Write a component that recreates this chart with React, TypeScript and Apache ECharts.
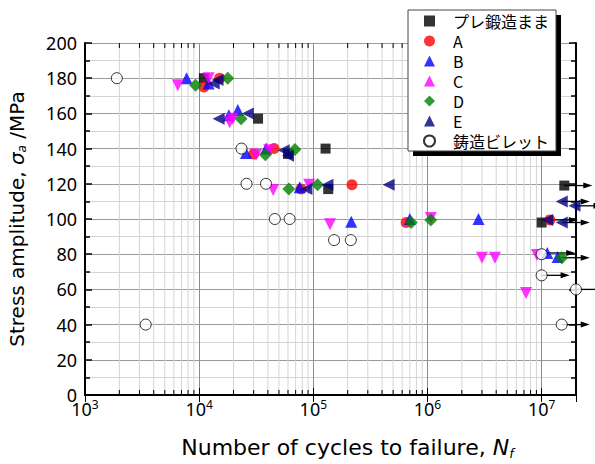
import React, { useEffect, useRef } from "react";
import * as echarts from "echarts";

// [cycles to failure, stress amplitude MPa]
const preForged = [[11000, 180], [32800, 157], [60000, 137], [128000, 140], [135000, 117], [15800000, 119], [10000000, 98]];
const seriesA = [[11000, 175], [15100, 180], [30000, 137], [45300, 140], [78000, 117], [218000, 119.5], [650000, 98], [11800000, 99.5]];
const seriesB = [[7770, 180], [12100, 177], [18200, 159], [21800, 162], [25700, 137.5], [38600, 140], [76000, 118], [215000, 98.5], [700000, 100], [2800000, 100], [11200000, 80.7], [13800000, 78.4]];
const seriesC = [[6500, 176], [12100, 180], [19700, 157], [18500, 155], [31500, 136.5], [41000, 139], [44500, 116.5], [92000, 119.5], [140000, 97], [1070000, 100.5], [3000000, 78], [3900000, 78], [7300000, 58], [9100000, 79.5]];
const seriesD = [[9300, 176], [17800, 180], [23300, 157], [38000, 136.5], [69000, 139.5], [61000, 117], [109000, 119.5], [720000, 98], [1070000, 99.5], [15000000, 78]];
const seriesE = [[13400, 177], [14500, 179], [14800, 157], [26700, 160], [55000, 139], [60000, 136], [87000, 117], [133000, 119.5], [457000, 119.5], [15000000, 110], [19400000, 107.5], [11200000, 99.5], [15000000, 98]];
const castBillet = [[1900, 180], [3400, 40], [23500, 140], [26000, 120], [38500, 120], [46000, 100], [62000, 100], [152000, 88], [213000, 88], [10000000, 80], [10000000, 68], [20000000, 60], [15000000, 40]];
// run-out (no failure) points
const runouts = [[15800000, 119], [15000000, 110], [19400000, 107.5], [11800000, 99.5], [15000000, 98], [11200000, 80.7], [15000000, 78], [10000000, 68], [20000000, 60], [15000000, 40]];

const seriesNames = ["プレ鍛造まま", "A", "B", "C", "D", "E", "鋳造ビレット"];
const xMinorTicks = [
  2000, 3000, 4000, 5000, 6000, 7000, 8000, 9000,
  20000, 30000, 40000, 50000, 60000, 70000, 80000, 90000,
  200000, 300000, 400000, 500000, 600000, 700000, 800000, 900000,
  2000000, 3000000, 4000000, 5000000, 6000000, 7000000, 8000000, 9000000,
];

const FONT = "'Noto Sans CJK JP', 'Noto Sans', sans-serif";
const TFONT = "'DejaVu Sans', sans-serif";
const NFONT = "'Noto Sans', sans-serif";

export default function App() {
  const ref = useRef<HTMLDivElement>(null);
  useEffect(() => {
    if (!ref.current) return;
    const chart = echarts.init(ref.current, undefined, { renderer: "svg" });
    const sc = (name: string, data: number[][], symbol: string, size: number, color: string, rotate = 0, extra: any = {}) => ({
      name,
      type: "scatter",
      data,
      symbol,
      symbolSize: size,
      symbolRotate: rotate,
      itemStyle: { color, ...extra },
      z: 3,
    });
    const option: any = {
      animation: false,
      backgroundColor: "#fff",
      grid: { left: 85, top: 43, right: 19, bottom: 69, containLabel: false, outerBoundsMode: "none" },
      legend: {
        orient: "vertical",
        left: 408,
        top: 10,
        data: seriesNames,
        itemWidth: 11,
        itemHeight: 11,
        itemGap: 0,
        padding: [1, 7, 0, 15],
        backgroundColor: "#fff",
        borderColor: "#444",
        borderWidth: 1,
        borderRadius: 0,
        textStyle: { fontSize: 16, lineHeight: 20, fontFamily: FONT, color: "#000", padding: [0, 0, 0, 13] },
        z: 10,
      },
      graphic: [
        { type: "rect", z: 9, shape: { x: 413, y: 15, width: 148, height: 141 }, style: { fill: "#000" } },
      ],
      xAxis: [
        {
          type: "log",
          logBase: 10,
          min: 1000,
          max: 20000000,
          position: "bottom",
          name: "Number of cycles to failure, {i|N}{s|f}",
          nameLocation: "middle",
          nameGap: 40,
          nameTextStyle: {
            fontSize: 22, fontFamily: TFONT, color: "#000", padding: [0, 0, 0, 34],
            rich: {
              i: { fontSize: 22, fontStyle: "italic", fontFamily: TFONT, color: "#000" },
              s: { fontSize: 13, fontStyle: "italic", fontFamily: TFONT, color: "#000", padding: [12, 0, 0, 0] },
            },
          },
          axisLine: { show: true, lineStyle: { color: "#000", width: 2 } },
          axisTick: { show: true, inside: true, length: 7, lineStyle: { color: "#000", width: 1 } },
          splitLine: { show: true, lineStyle: { color: "#8c8c8c", width: 1 } },
          axisLabel: {
            margin: 3,
            showMaxLabel: false,
            formatter: (v: number) => {
              const e = Math.round(Math.log10(v));
              if (Math.abs(Math.log10(v) - e) > 1e-6) return "";
              return "{b|10}{s|" + e + "}";
            },
            rich: {
              b: { fontSize: 18, fontFamily: NFONT, color: "#000" },
              s: { fontSize: 12, fontFamily: NFONT, color: "#000", padding: [0, 0, 9, 0] },
            },
          },
        },
        {
          type: "log",
          logBase: 10,
          min: 1000,
          max: 20000000,
          position: "top",
          axisLine: { show: true, lineStyle: { color: "#000", width: 2 } },
          axisTick: { show: true, inside: true, length: 7, lineStyle: { color: "#000", width: 1 } },
          axisLabel: { show: false },
          splitLine: { show: false },
        },
      ],
      yAxis: [
        {
          type: "value",
          min: 0,
          max: 200,
          interval: 20,
          position: "left",
          name: "Stress amplitude, {i|σ}{s|a} /MPa",
          nameLocation: "middle",
          nameRotate: 90,
          nameGap: 57,
          nameTextStyle: {
            fontSize: 20, fontFamily: TFONT, color: "#000",
            rich: {
              i: { fontSize: 20, fontStyle: "italic", fontFamily: TFONT, color: "#000" },
              s: { fontSize: 12, fontStyle: "italic", fontFamily: TFONT, color: "#000", padding: [11, 0, 0, 0] },
            },
          },
          axisLine: { show: true, lineStyle: { color: "#000", width: 2 } },
          axisTick: { show: true, inside: true, length: 7, lineStyle: { color: "#000", width: 1.5 } },
          minorTick: { show: true, splitNumber: 2, length: 5, lineStyle: { color: "#000", width: 1.5 } },
          splitLine: { show: true, lineStyle: { color: "#9a9a9a", width: 1 } },
          minorSplitLine: { show: true, lineStyle: { color: "#d4d4d4", width: 1 } },
          axisLabel: { fontSize: 18, fontFamily: NFONT, color: "#000", margin: 8 },
        },
        {
          type: "value",
          min: 0,
          max: 200,
          interval: 20,
          position: "right",
          axisLine: { show: true, lineStyle: { color: "#000", width: 2 } },
          axisTick: { show: true, inside: true, length: 7, lineStyle: { color: "#000", width: 1.5 } },
          minorTick: { show: true, splitNumber: 2, length: 5, lineStyle: { color: "#000", width: 1.5 } },
          axisLabel: { show: false },
          splitLine: { show: false },
        },
      ],
      series: [
        {
          name: "minor-grid",
          type: "custom",
          xAxisIndex: 0,
          yAxisIndex: 0,
          z: 0,
          silent: true,
          data: xMinorTicks.map((v) => [v, 0]),
          renderItem: (_p: any, api: any) => {
            const v = api.value(0);
            const b = api.coord([v, 0]);
            const t = api.coord([v, 200]);
            return {
              type: "group",
              children: [
                { type: "line", shape: { x1: b[0], y1: b[1], x2: t[0], y2: t[1] }, style: { stroke: "#d4d4d4", lineWidth: 1 } },
                { type: "line", shape: { x1: b[0], y1: b[1], x2: b[0], y2: b[1] - 5 }, style: { stroke: "#000", lineWidth: 1 } },
                { type: "line", shape: { x1: t[0], y1: t[1], x2: t[0], y2: t[1] + 5 }, style: { stroke: "#000", lineWidth: 1 } },
              ],
            };
          },
        },
        {
          name: "runout",
          type: "custom",
          xAxisIndex: 0,
          yAxisIndex: 0,
          z: 2,
          silent: true,
          data: runouts,
          renderItem: (_p: any, api: any) => {
            const p = api.coord([api.value(0), api.value(1)]);
            const L = 28;
            return {
              type: "group",
              children: [
                { type: "line", shape: { x1: p[0], y1: p[1], x2: p[0] + L - 6, y2: p[1] }, style: { stroke: "#000", lineWidth: 1.3 } },
                { type: "polygon", shape: { points: [[p[0] + L, p[1]], [p[0] + L - 9, p[1] - 3], [p[0] + L - 9, p[1] + 3]] }, style: { fill: "#000" } },
              ],
            };
          },
        },
        sc(seriesNames[0], preForged, "rect", 10, "#000000"),
        sc(seriesNames[1], seriesA, "circle", 11, "#ff0000"),
        sc(seriesNames[2], seriesB, "triangle", 12, "#0000ff"),
        sc(seriesNames[3], seriesC, "triangle", 12, "#ff00ff", 180),
        sc(seriesNames[4], seriesD, "diamond", 13, "#008000"),
        sc(seriesNames[5], seriesE, "triangle", 12, "#000080", 90),
        sc(seriesNames[6], castBillet, "circle", 11, "#ffffff", 0, { borderColor: "#000", borderWidth: 1 }),
      ],
    };
    chart.setOption(option);
    return () => chart.dispose();
  }, []);
  return <div ref={ref} style={{ position: "absolute", left: 0, top: 0, width: 595, height: 464 }} />;
}
